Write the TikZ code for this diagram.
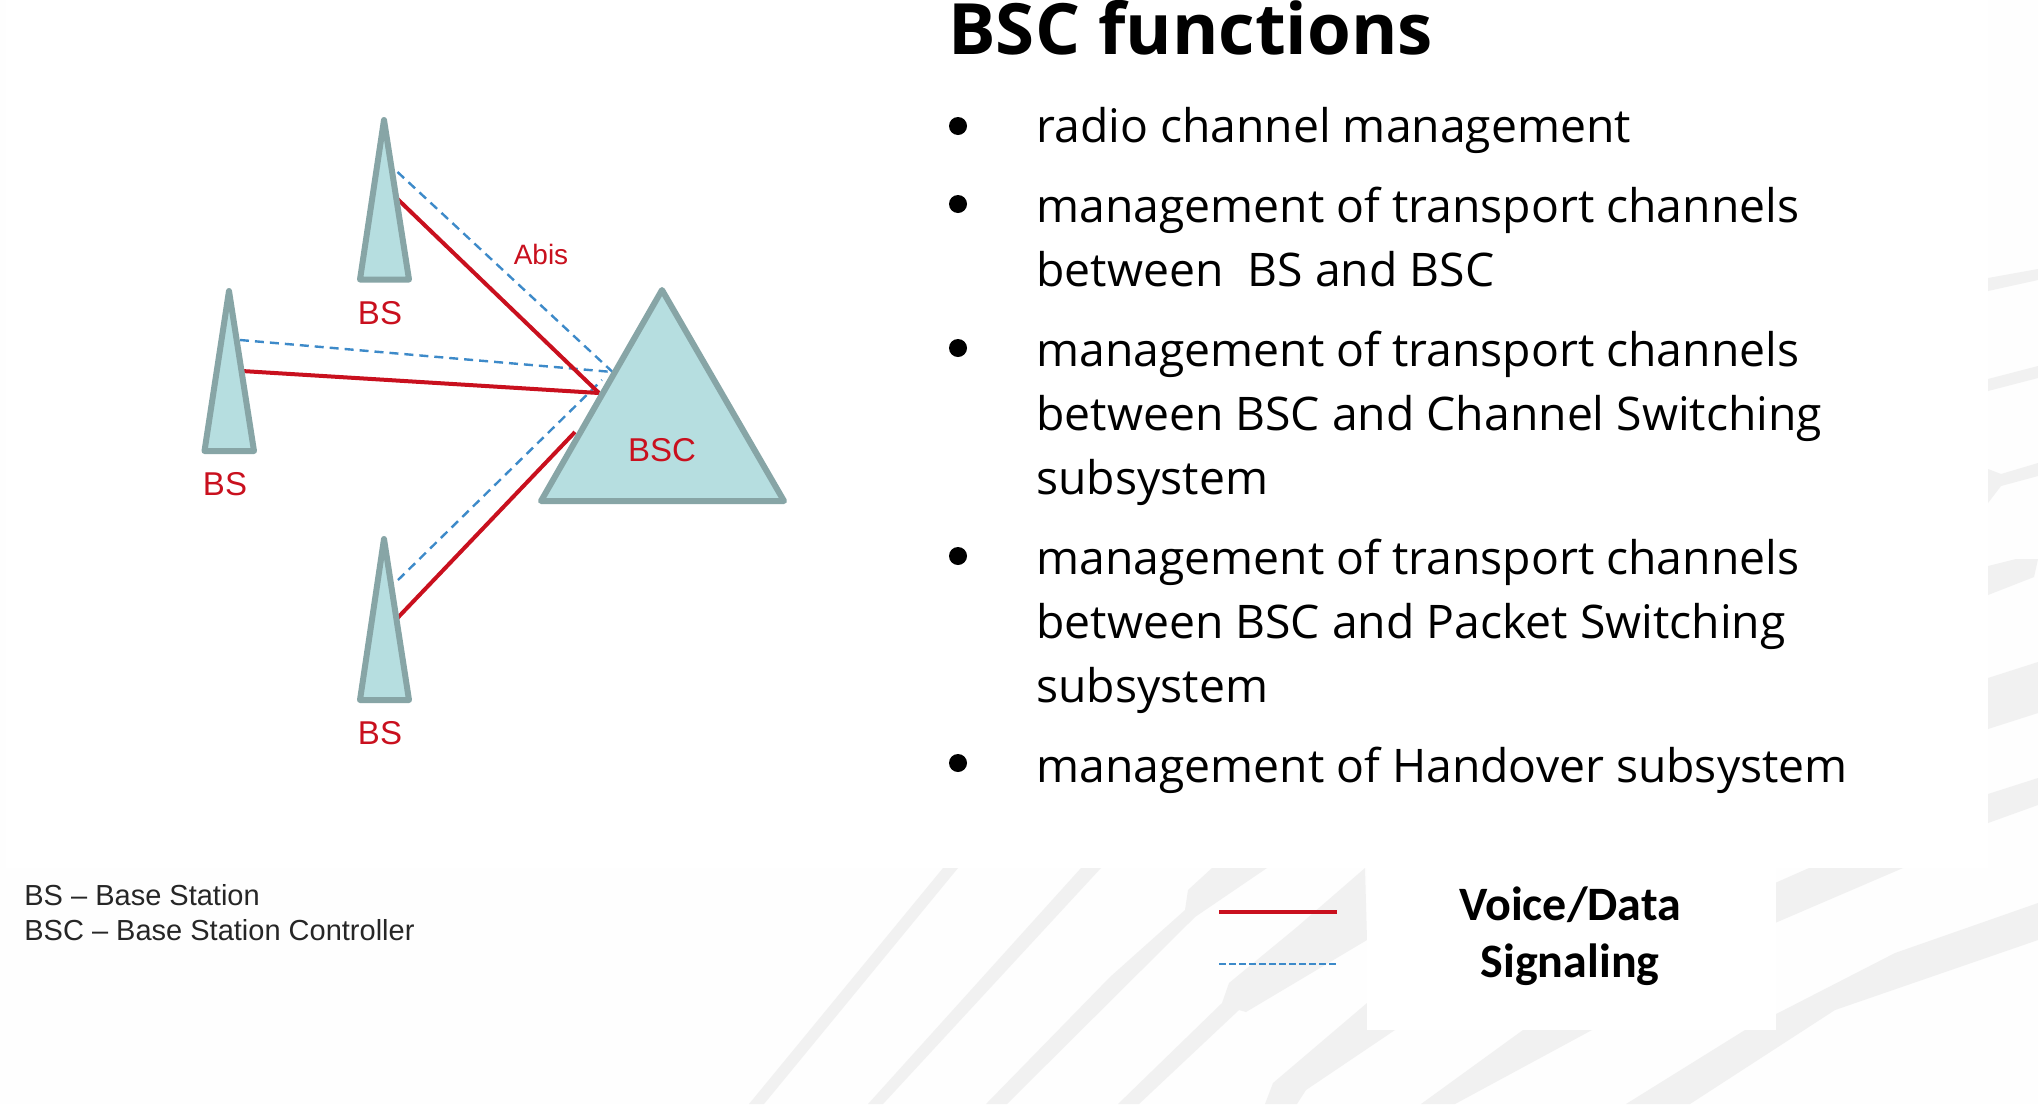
\documentclass[tikz,border=0pt]{standalone}
\usepackage{fontspec}
\setmainfont{Open Sans}
\newfontfamily\arialf{Liberation Sans}
\newfontfamily\calib{Carlito}
\tikzset{
  tower/.style={draw=towerline,fill=towerfill,line width=3pt,line join=round},
  voice/.style={draw=voicered,line width=2pt},
  signal/.style={draw=signalblue,line width=1.2pt,dash pattern=on 4.5pt off 3pt},
  redlab/.style={text=voicered,font=\arialf\fontsize{16.5}{20}\selectfont,inner sep=0pt},
  leglab/.style={text=black!85,font=\arialf\fontsize{14.5}{17}\selectfont,anchor=west,inner sep=0pt},
  item/.style={anchor=base west,inner sep=0pt,font=\fontsize{23.15}{29}\selectfont,text=black},
  dotmark/.style={circle,fill=black,inner sep=0pt,minimum size=9pt},
  wm/.style={fill=wmgray,draw=none},
  legt/.style={font=\calib\bfseries\fontsize{24}{26}\selectfont,inner sep=0pt,text=black}
}
\definecolor{towerline}{HTML}{87A5A6}
\definecolor{towerfill}{HTML}{B6DEE0}
\definecolor{voicered}{HTML}{C9101E}
\definecolor{signalblue}{HTML}{3D8AC9}
\definecolor{wmgray}{HTML}{F1F1F1}
\definecolor{pagebg}{HTML}{FEFEFE}
\begin{document}
\begin{tikzpicture}[x=0.5pt,y=-0.5pt]
\useasboundingbox (0,0) rectangle (2038,1104);
\fill[pagebg] (0,0) rectangle (2038,1104);
% watermark, lower band
\begin{scope}
\clip (700,868) rectangle (2038,1104);
\fill[wm] (943,868) -- (958,868) -- (764,1104) -- (749,1104) -- cycle;
\fill[wm] (1081,868) -- (1101,868) -- (883,1104) -- (868,1104) -- cycle;
\fill[wm] (1212,868) -- (1267,868) -- (1195,917) -- (1007,1104) -- (986,1104) -- (1110,977) -- (1185,910) -- (1188,890) -- cycle;
\fill[wm] (1365,868) -- (1367,940) -- (1246,1012) -- (1239,1010) -- (1139,1104) -- (1118,1104) -- (1222,1003) -- (1229,983) -- (1297,927) -- cycle;
\fill[wm] (1367,1003) -- (1395,1030) -- (1306,1090) -- (1297,1104) -- (1265,1104) -- (1273,1083) -- cycle;
\fill[wm] (1523,1030) -- (1592,1030) -- (1455,1104) -- (1421,1104) -- cycle;
\fill[wm] (2038,903) -- (1895,953) -- (1745,1030) -- (1626,1104) -- (1690,1104) -- (1835,1010) -- (2038,940) -- cycle;
\fill[wm] (1809,868) -- (1903,868) -- (1775,923) -- (1775,883) -- cycle;
\end{scope}
% watermark, right strip
\begin{scope}
\clip (1988,0) rectangle (2038,868);
\fill[wm] (1988,278) -- (2038,269) -- (2038,280) -- (1988,291) -- cycle;
\fill[wm] (1988,379) -- (2038,366) -- (2038,378) -- (1988,391) -- cycle;
\fill[wm] (1988,469) -- (2001,474) -- (2038,463) -- (2038,476) -- (2001,486) -- (1988,503) -- cycle;
\fill[wm] (1988,566) -- (2016,559) -- (2038,559) -- (2034,577) -- (1988,595) -- cycle;
\fill[wm] (1988,678) -- (2038,662) -- (2038,713) -- (1988,729) -- cycle;
\fill[wm] (1988,794) -- (2038,778) -- (2038,805) -- (1988,823) -- cycle;
\end{scope}
% white panels
\fill[white] (6,0) rectangle (1988,868);
\fill[white] (1367,868) rectangle (1776,1030);

% towers
\coordinate (topA) at (384,120); \coordinate (topL) at (360,279.5); \coordinate (topR) at (409,279.5);
\coordinate (lefA) at (229,291); \coordinate (lefL) at (204.5,451); \coordinate (lefR) at (254,451);
\coordinate (botA) at (384,539); \coordinate (botL) at (360,700); \coordinate (botR) at (409,700);
\coordinate (bscA) at (662,290); \coordinate (bscL) at (541,501); \coordinate (bscR) at (784,501);
% link end points
\coordinate (tv) at (397.5,199); \coordinate (ts) at (397.5,172);
\coordinate (lv) at (242,371); \coordinate (ls) at (240,340);
\coordinate (bv) at (397.5,618); \coordinate (bs) at (398,580);
\coordinate (hv) at (599,393); \coordinate (hs) at (612.6,372);
\coordinate (bv2) at (575,432); \coordinate (bs2) at (602,380);
\coordinate (k1) at (1219,912); \coordinate (k2) at (1337,912);
\coordinate (k3) at (1219,964); \coordinate (k4) at (1336,964);

\draw[signal] (ts) -- (hs);
\draw[signal] (ls) -- (hs);
\draw[signal] (bs) -- (bs2);
\draw[voice] (tv) -- (hv);
\draw[voice] (lv) -- (hv);
\draw[voice] (bv) -- (bv2);

\draw[tower] (topA) -- (topL) -- (topR) -- cycle;
\draw[tower] (lefA) -- (lefL) -- (lefR) -- cycle;
\draw[tower] (botA) -- (botL) -- (botR) -- cycle;
\draw[tower] (bscA) -- (bscL) -- (bscR) -- cycle;

\node[redlab] (l1) at (380,313) {BS};
\node[redlab] (l2) at (225,484) {BS};
\node[redlab] (l3) at (380,733) {BS};
\node[redlab] (l4) at (662,450) {BSC};
\node[redlab,font=\arialf\fontsize{14}{17}\selectfont] (l5) at (541,254) {Abis};

\node[leglab] (g1) at (24,895) {BS – Base Station};
\node[leglab] (g2) at (24,930) {BSC – Base Station Controller};

% right column
\node[anchor=base west,inner sep=0pt,font=\bfseries\fontsize{35.4}{40}\selectfont] (title) at (948,54) {BSC functions};
\foreach \n/\y in {a/126,b/204,c/348,d/556,e/763}{\node[dotmark] (dot\n) at (958,\y) {};}
\node[item] (i1) at (1036,142) {radio channel management};
\node[item] (i2) at (1036,222) {management of transport channels};
\node[item] (i3) at (1036,286) {between\ \ BS and BSC};
\node[item] (i4) at (1036,366) {management of transport channels};
\node[item] (i5) at (1036,430) {between BSC and Channel Switching};
\node[item] (i6) at (1036,494) {subsystem};
\node[item] (i7) at (1036,574) {management of transport channels};
\node[item] (i8) at (1036,638) {between BSC and Packet Switching};
\node[item] (i9) at (1036,702) {subsystem};
\node[item] (i10) at (1036,782) {management of Handover subsystem};

% key
\draw[voice] (k1) -- (k2);
\draw[signal,dash pattern=on 3.5pt off 1.5pt] (k3) -- (k4);
\node[legt] (v1) at (1570,905) {Voice/Data};
\node[legt] (v2) at (1570,965) {Signaling};
\end{tikzpicture}
\end{document}
